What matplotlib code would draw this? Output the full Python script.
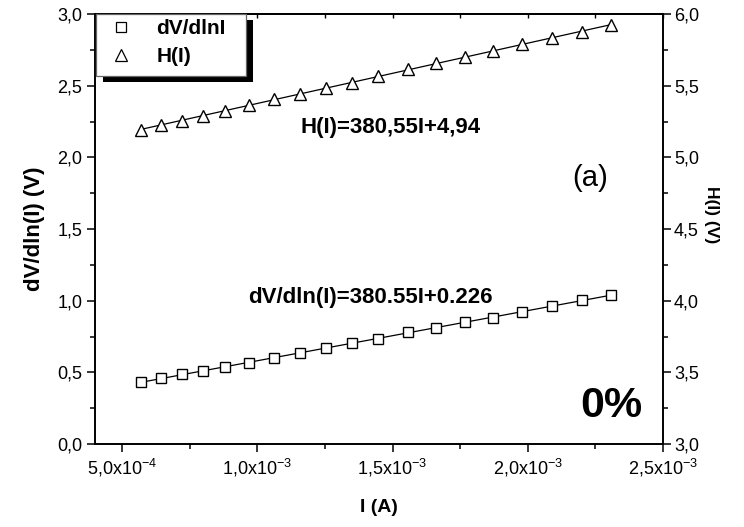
import numpy as np
import matplotlib
matplotlib.use('Agg')
import matplotlib.pyplot as plt
from matplotlib.patches import Rectangle
from matplotlib.ticker import FixedLocator, FixedFormatter, MultipleLocator
from matplotlib.lines import Line2D

plt.rcParams['font.family'] = ['Liberation Sans', 'DejaVu Sans']
plt.rcParams['mathtext.fontset'] = 'custom'
plt.rcParams['mathtext.rm'] = 'Liberation Sans'
plt.rcParams['mathtext.it'] = 'Liberation Sans:italic'
plt.rcParams['mathtext.bf'] = 'Liberation Sans:bold'

# ---------------- data ----------------
current_A = [5.69e-4, 6.43e-4, 7.21e-4, 8.00e-4, 8.81e-4, 9.70e-4, 1.063e-3,
             1.158e-3, 1.254e-3, 1.349e-3, 1.448e-3, 1.557e-3, 1.662e-3,
             1.767e-3, 1.871e-3, 1.979e-3, 2.088e-3, 2.199e-3, 2.306e-3]
dvdlni_V = [0.431, 0.458, 0.486, 0.511, 0.537, 0.567, 0.602, 0.637, 0.670,
            0.703, 0.733, 0.779, 0.812, 0.851, 0.877, 0.921, 0.965, 1.005, 1.038]
h_V = [5.191, 5.226, 5.256, 5.291, 5.326, 5.366, 5.405, 5.442, 5.482,
       5.521, 5.565, 5.615, 5.657, 5.699, 5.742, 5.789, 5.831, 5.877, 5.924]

series_labels = ['dV/dlnI', 'H(I)']
x_ticks = [5e-4, 1e-3, 1.5e-3, 2e-3, 2.5e-3]
x_tick_labels = [r'5,0x10$^{-4}$', r'1,0x10$^{-3}$', r'1,5x10$^{-3}$',
                 r'2,0x10$^{-3}$', r'2,5x10$^{-3}$']
left_ticks = [0.0, 0.5, 1.0, 1.5, 2.0, 2.5, 3.0]
left_tick_labels = ['0,0', '0,5', '1,0', '1,5', '2,0', '2,5', '3,0']
right_ticks = [3.0, 3.5, 4.0, 4.5, 5.0, 5.5, 6.0]
right_tick_labels = ['3,0', '3,5', '4,0', '4,5', '5,0', '5,5', '6,0']

eq_dv = 'dV/dln(I)=380.55I+0.226'
eq_h = 'H(I)=380,55I+4,94'

# ---------------- figure ----------------
W, H = 744, 527
fig = plt.figure(figsize=(W / 100, H / 100), dpi=100)
ax = fig.add_axes([95 / W, 83 / H, 568 / W, 430 / H])
ax2 = ax.twinx()

x = np.array(current_A)
y1 = np.array(dvdlni_V)
y2 = np.array(h_V)

# fit lines
p1 = np.polyfit(x, y1, 1)
p2 = np.polyfit(x, y2, 1)
xf = np.array([x.min(), x.max()])
ax.plot(xf, np.polyval(p1, xf), color='black', lw=0.9, zorder=2)
ax2.plot(xf, np.polyval(p2, xf), color='black', lw=0.9, zorder=2)

ax.plot(x, y1, ls='none', marker='s', ms=7, mfc='white', mec='black', mew=1.0, zorder=3)
ax2.plot(x, y2, ls='none', marker='^', ms=8.5, mfc='white', mec='black', mew=1.0, zorder=3)

ax.set_xlim(4e-4, 2.5e-3)
ax.set_ylim(0, 3)
ax2.set_ylim(3, 6)

tick_fs = 13
ax.xaxis.set_major_locator(FixedLocator(x_ticks))
ax.xaxis.set_major_formatter(FixedFormatter(x_tick_labels))
ax.xaxis.set_minor_locator(MultipleLocator(2.5e-4))
ax.yaxis.set_major_locator(FixedLocator(left_ticks))
ax.yaxis.set_major_formatter(FixedFormatter(left_tick_labels))
ax.yaxis.set_minor_locator(MultipleLocator(0.25))
ax2.yaxis.set_major_locator(FixedLocator(right_ticks))
ax2.yaxis.set_major_formatter(FixedFormatter(right_tick_labels))
ax2.yaxis.set_minor_locator(MultipleLocator(0.25))

for a in (ax, ax2):
    for s in a.spines.values():
        s.set_linewidth(1.2)
        s.set_color('black')
ax.tick_params(axis='both', which='major', direction='out', length=6, width=1.1,
               labelsize=tick_fs, pad=3)
ax.tick_params(axis='both', which='minor', direction='out', length=3.5, width=1.1)
ax2.tick_params(axis='y', which='major', direction='out', length=6, width=1.1,
                labelsize=tick_fs, pad=2)
ax2.tick_params(axis='y', which='minor', direction='out', length=3.5, width=1.1)

# top ticks (inward)
sec = ax.secondary_xaxis('top')
sec.xaxis.set_major_locator(MultipleLocator(2.5e-4))
sec.tick_params(axis='x', which='major', direction='in', length=3, width=1.0,
                labeltop=False)
sec.spines['top'].set_linewidth(1.2)

ax.set_xlabel('I (A)', fontsize=14, fontweight='bold', labelpad=15)
ax.set_ylabel('dV/dln(I) (V)', fontsize=16, fontweight='bold', labelpad=9)
ax2.set_ylabel('H(I) (V)', fontsize=12.5, fontweight='bold', rotation=-90,
               va='center', ha='center')
ax2.yaxis.set_label_coords((711 - 95) / 568, (444 - 215) / 430)

# annotations
fig.text(248 / W, 1 - 298 / H, eq_dv, fontsize=16, fontweight='bold',
         va='center', ha='left')
fig.text(300 / W, 1 - 128 / H, eq_h, fontsize=16, fontweight='bold',
         va='center', ha='left')
fig.text(590 / W, 1 - 178 / H, '(a)', fontsize=21, va='center', ha='center')
fig.text(642 / W, 1 - 406 / H, '0%', fontsize=31, fontweight='bold',
         va='center', ha='right')

# legend box with black drop shadow
ax_w, ax_h = 568.0, 430.0
box_w, box_h = 150 / ax_w, 62 / ax_h
ax2.add_patch(Rectangle((8 / ax_w, 1 - box_h - 6 / ax_h), box_w, box_h,
                        transform=ax2.transAxes, facecolor='black', edgecolor='none',
                        zorder=8, clip_on=False))
ax2.add_patch(Rectangle((1 / ax_w, 1 - box_h), box_w, box_h,
                        transform=ax2.transAxes, facecolor='white', edgecolor='0.4',
                        lw=0.9, zorder=9, clip_on=False))

handles = [Line2D([], [], ls='none', marker='s', ms=7.5, mfc='white', mec='black', mew=0.9),
           Line2D([], [], ls='none', marker='^', ms=8.5, mfc='white', mec='black', mew=0.9)]
leg = ax2.legend(handles, series_labels, loc='upper left', bbox_to_anchor=(0, 1),
                 borderaxespad=0, frameon=False,
                 prop={'weight': 'bold', 'size': 15}, handlelength=2.0,
                 handletextpad=0.7, labelspacing=0.42, borderpad=0.25)
leg.set_zorder(10)

fig.savefig('out.png', dpi=100)
